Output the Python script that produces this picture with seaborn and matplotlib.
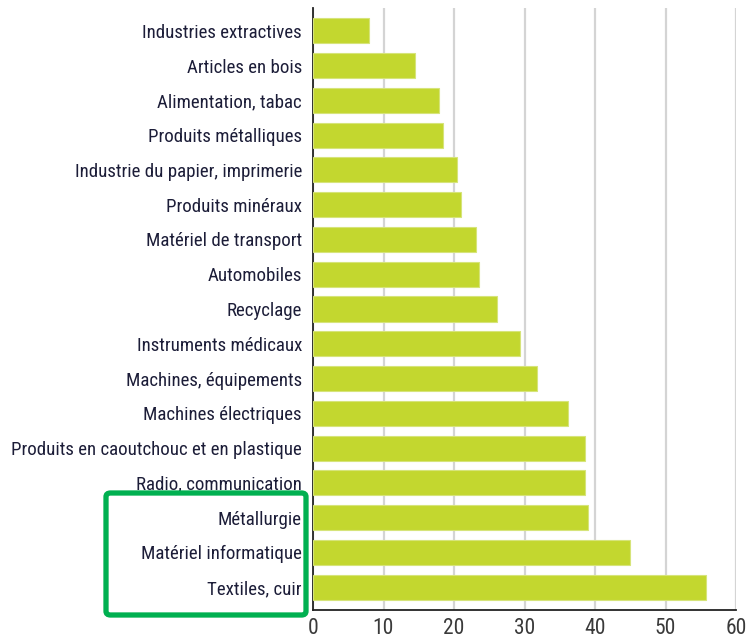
import matplotlib
matplotlib.use("Agg")
import matplotlib.pyplot as plt
import seaborn as sns
import pandas as pd
from matplotlib.patches import FancyBboxPatch
from matplotlib import font_manager

categories = [
    "Industries extractives", "Articles en bois", "Alimentation, tabac",
    "Produits métalliques", "Industrie du papier, imprimerie", "Produits minéraux",
    "Matériel de transport", "Automobiles", "Recyclage", "Instruments médicaux",
    "Machines, équipements", "Machines électriques",
    "Produits en caoutchouc et en plastique", "Radio, communication",
    "Métallurgie", "Matériel informatique", "Textiles, cuir",
]
values = [8.0, 14.5, 17.9, 18.5, 20.4, 21.0, 23.1, 23.5, 26.1, 29.4,
          31.8, 36.2, 38.6, 38.6, 39.0, 44.9, 55.7]
x_ticks = [0, 10, 20, 30, 40, 50, 60]

df = pd.DataFrame({"cat": categories, "val": values})

sns.set_theme(style="white")
names = {f.name for f in font_manager.fontManager.ttflist}
fam = "DejaVu Sans"
ysize, xsize = 9.5, 12
for cand, ys, xs in [("Liberation Sans Narrow", 13, 14), ("Roboto Condensed", 13.6, 15.5),
                     ("Open Sans Condensed", 13.6, 15.5), ("Liberation Sans", 11, 13)]:
    if cand in names:
        fam, ysize, xsize = cand, ys, xs
        break
plt.rcParams["font.family"] = [fam, "DejaVu Sans"]

fig = plt.figure(figsize=(7.46, 6.39), dpi=100)
ax = fig.add_axes([313/746, 1 - 610/639, (736 - 313)/746, (610 - 8)/639])

sns.barplot(data=df, x="val", y="cat", orient="h", color="#c3d72f",
            saturation=1, width=0.72, edgecolor="#d6e47a", linewidth=0.8, ax=ax, zorder=3)

ax.set_xlim(0, 60)
ax.set_ylim(16.66, -0.66)
ax.set_xticks(x_ticks)
ax.set_xticklabels([str(t) for t in x_ticks], fontsize=xsize, color="#3a3a3a")
ax.tick_params(axis="y", labelsize=ysize, labelcolor="#1c1d38", length=0, pad=8)
ax.tick_params(axis="x", length=0, pad=6)
ax.xaxis.grid(True, color="#d4d4d4", linewidth=1.6, zorder=0)
ax.set_axisbelow(True)
ax.set_xlabel("")
ax.set_ylabel("")
for s in ["top", "right"]:
    ax.spines[s].set_visible(False)
ax.spines["left"].set_color("#222222")
ax.spines["bottom"].set_color("#222222")
ax.spines["left"].set_linewidth(1.3)
ax.spines["bottom"].set_linewidth(1.3)

# green highlight box
x0, x1 = 106/746, 306/746
y0, y1 = 1 - 615/639, 1 - 493/639
box = FancyBboxPatch((x0, y0), x1 - x0, y1 - y0, boxstyle="round,pad=0,rounding_size=0.006",
                     transform=fig.transFigure, fill=False, edgecolor="#00b050",
                     linewidth=3.8, zorder=10)
fig.patches.append(box)

fig.savefig("out.png", dpi=100)
